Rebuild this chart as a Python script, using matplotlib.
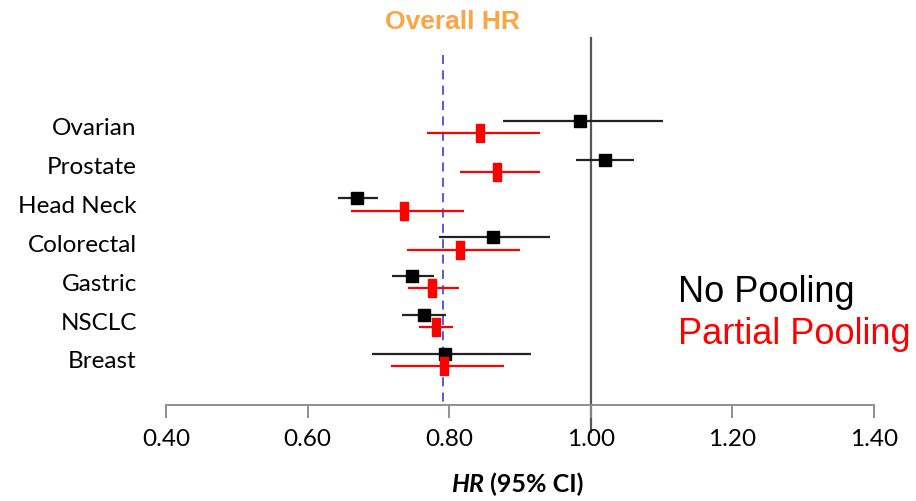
import numpy as np
import matplotlib
matplotlib.use("Agg")
import matplotlib.pyplot as plt

# data
cancers = ["Ovarian", "Prostate", "Head Neck", "Colorectal", "Gastric", "NSCLC", "Breast"]
np_hr = [0.985, 1.020, 0.670, 0.862, 0.747, 0.764, 0.794]
np_lo = [0.876, 0.979, 0.643, 0.786, 0.719, 0.733, 0.691]
np_hi = [1.102, 1.061, 0.700, 0.942, 0.779, 0.795, 0.916]
pp_hr = [0.843, 0.868, 0.736, 0.815, 0.776, 0.781, 0.793]
pp_lo = [0.769, 0.815, 0.661, 0.741, 0.742, 0.757, 0.718]
pp_hi = [0.928, 0.928, 0.821, 0.900, 0.814, 0.806, 0.877]
overall_hr = 0.791
xticks = [0.40, 0.60, 0.80, 1.00, 1.20, 1.40]

lab_font = "Lato"

fig = plt.figure(figsize=(9.16, 5.01), dpi=100)
ax = fig.add_axes([166/916, 1-405/501, 708/916, 367/501])

rows = np.arange(len(cancers))
off = 0.16

# reference line at HR = 1 and overall HR
ax.plot([1.0, 1.0], [-2.29, 7.86], color="#555555", lw=1.6, clip_on=False, zorder=1)
ax.plot([overall_hr, overall_hr], [-1.85, 7.16], color="#4b4bdc", lw=1.3,
        ls=(0, (5, 3.5)), clip_on=False, zorder=1)

# no pooling (black)
ax.hlines(rows - off, np_lo, np_hi, color="#222222", lw=1.6, zorder=2)
ax.plot(np_hr, rows - off, "s", color="black", ms=8, zorder=3)

# partial pooling (red)
ax.hlines(rows + off, pp_lo, pp_hi, color="red", lw=1.6, zorder=2)
rect = [(-0.4, -1), (0.4, -1), (0.4, 1), (-0.4, 1), (-0.4, -1)]
ax.plot(pp_hr, rows + off, linestyle="none", marker=rect, color="red", ms=13.5, zorder=3)

ax.set_xlim(0.4, 1.4)
ax.set_ylim(7.16, -2.29)

for s in ["top", "right", "left"]:
    ax.spines[s].set_visible(False)
ax.spines["bottom"].set_color("#888888")
ax.spines["bottom"].set_linewidth(1.3)

ax.set_xticks(xticks)
ax.set_xticklabels(["%.2f" % t for t in xticks], fontsize=17.5, family=lab_font)
ax.tick_params(axis="x", direction="out", length=9, width=1.3, color="#888888", pad=8)

ax.set_yticks(rows)
ax.set_yticklabels(cancers, fontsize=17.5, family=lab_font)
ax.tick_params(axis="y", length=0, pad=21)

# x label: italic bold HR + bold rest
ax.annotate("HR", xy=(0.5, 0), xycoords="axes fraction", xytext=(-26, -57),
            textcoords="offset points", ha="right", va="center",
            fontsize=18, fontweight="bold", fontstyle="italic", family=lab_font)
ax.annotate(" (95% CI)", xy=(0.5, 0), xycoords="axes fraction", xytext=(-26, -57),
            textcoords="offset points", ha="left", va="center",
            fontsize=18, fontweight="bold", family=lab_font)

fig.text(452/916, 1-22/501, "Overall HR", color="#ffa443", fontsize=19,
         fontweight="bold", family="Liberation Sans", ha="center", va="center")

fig.text(678/916, 1-292/501, "No Pooling", color="black", fontsize=26,
         family="Liberation Sans", ha="left", va="center")
fig.text(678/916, 1-334/501, "Partial Pooling", color="red", fontsize=26,
         family="Liberation Sans", ha="left", va="center")

fig.savefig("out.png", dpi=100)
